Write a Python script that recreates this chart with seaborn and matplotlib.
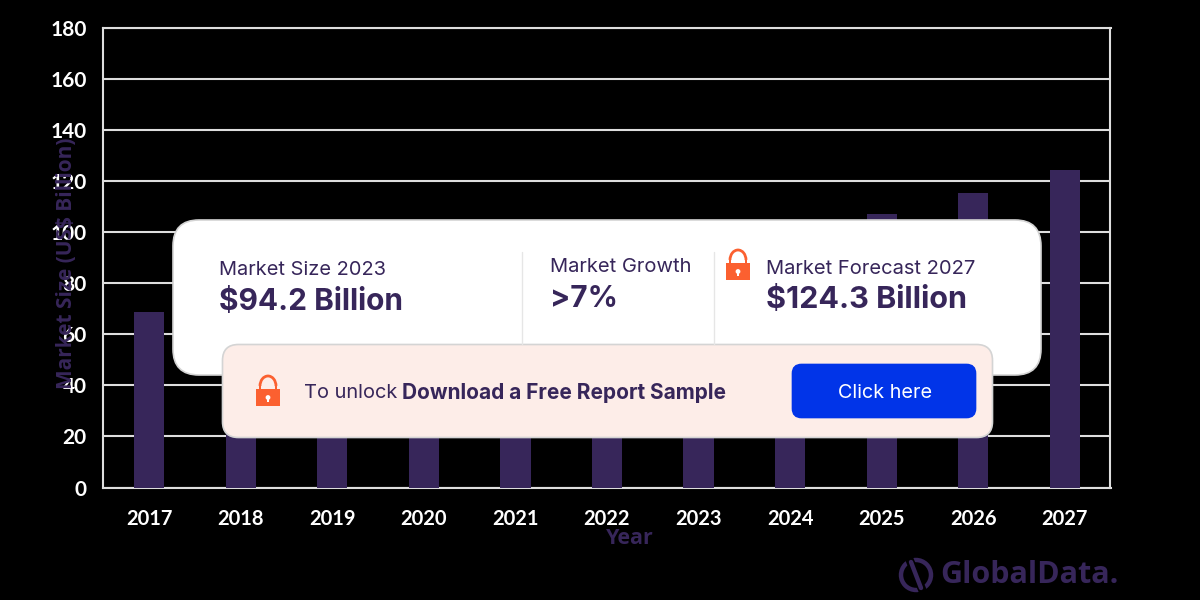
import pandas as pd
import matplotlib.pyplot as plt
import seaborn as sns
from matplotlib.patches import FancyBboxPatch, Rectangle, Arc, Circle

years = ['2017', '2018', '2019', '2020', '2021', '2022', '2023', '2024', '2025', '2026', '2027']
# values behind the card are estimates, 2023 and 2027 are printed on it
market_size = [68.7, 72.5, 76.0, 72.0, 80.0, 87.0, 94.2, 100.5, 107.3, 115.3, 124.3]
y_ticks = [0, 20, 40, 60, 80, 100, 120, 140, 160, 180]

PURPLE = '#37265a'
ORANGE = '#fb6030'
BLUE = '#0134e8'
PINK = '#fdede8'
LINE = '#dedede'


def draw_card(ax, x, y, w, h, radius, color, edge='#d4d4d4'):
    """Rounded panel, given in pixels"""
    ax.add_patch(FancyBboxPatch((x + radius, y + radius), w - 2 * radius, h - 2 * radius,
                                boxstyle=f'round,pad={radius},rounding_size={radius}',
                                facecolor=color, edgecolor=edge, linewidth=1.2))


def draw_lock(ax, cx, top):
    """Small padlock icon, top is the pixel row of the shackle"""
    ax.add_patch(Arc((cx, top + 10), 16, 20, theta1=180, theta2=360, color=ORANGE, linewidth=2))
    ax.add_patch(Rectangle((cx - 9, top + 10), 2, 6, color=ORANGE, linewidth=0))
    ax.add_patch(Rectangle((cx + 7, top + 10), 2, 6, color=ORANGE, linewidth=0))
    ax.add_patch(Rectangle((cx - 12, top + 13), 24, 17, color=ORANGE, linewidth=0))
    ax.add_patch(Circle((cx, top + 21.5), 2.4, color='white', linewidth=0))
    ax.add_patch(Rectangle((cx - 1, top + 22), 2, 4, color='white', linewidth=0))


df = pd.DataFrame({'year': years, 'market_size': market_size})

sns.set_theme(style='white')
plt.rcParams['font.family'] = ['Lato', 'DejaVu Sans']

fig = plt.figure(figsize=(12, 6), dpi=100, facecolor='black')
ax = fig.add_axes([103.5 / 1200, 1 - 487.5 / 600, 1007 / 1200, 459.5 / 600], facecolor='black')

sns.barplot(data=df, x='year', y='market_size', color=PURPLE, saturation=1, width=0.33,
            linewidth=0, ax=ax, zorder=3)

ax.set_ylim(0, 180)
ax.set_xlim(-0.5, 10.5)
ax.set_yticks(y_ticks)
ax.grid(axis='y', color=LINE, linewidth=1.5, zorder=1)
ax.set_axisbelow(True)
for spine in ax.spines.values():
    spine.set_visible(True)
    spine.set_color(LINE)
    spine.set_linewidth(1.5)
ax.tick_params(axis='x', length=0, pad=15.5, labelsize=14.5, labelcolor='white')
ax.tick_params(axis='y', length=0, pad=12, labelsize=15, labelcolor='white')
for label in ax.get_xticklabels() + ax.get_yticklabels():
    label.set_fontweight('bold')
    label.set_zorder(5)
ax.set_xlabel('')
ax.set_ylabel('')

# overlay in pixel coordinates for the axis titles, the cards and the logo
ov = fig.add_axes([0, 0, 1, 1], facecolor='none')
ov.set_xlim(0, 1200)
ov.set_ylim(600, 0)
ov.axis('off')

title_font = ['Open Sans', 'DejaVu Sans']
ov.text(66, 263, 'Market Size (US$ Billion)', rotation=90, ha='center', va='center',
        fontsize=15, fontweight='bold', color=PURPLE, family=title_font)
ov.text(629.5, 539, 'Year', ha='center', va='center', fontsize=15.5, fontweight='bold', color=PURPLE,
        family=title_font)

draw_card(ov, 173, 220, 868, 155, 26, 'white')
ov.plot([521.5, 521.5], [252, 344], color='#e6e6e6', linewidth=1)
ov.plot([714, 714], [252, 344], color='#e6e6e6', linewidth=1)

card_font = ['Inter', 'DejaVu Sans']
ov.text(219, 270, 'Market Size 2023', fontsize=14.4, color=PURPLE, va='center', family=card_font)
ov.text(219, 302, '$94.2 Billion', fontsize=21.5, fontweight='bold', color=PURPLE, va='center', family=card_font)
ov.text(550, 267, 'Market Growth', fontsize=14.5, color=PURPLE, va='center', family=card_font)
ov.text(550, 299, '>7%', fontsize=21.5, fontweight='bold', color=PURPLE, va='center', family=card_font)
ov.text(766, 269, 'Market Forecast 2027', fontsize=14.5, color=PURPLE, va='center', family=card_font)
ov.text(766, 300, '$124.3 Billion', fontsize=22, fontweight='bold', color=PURPLE, va='center', family=card_font)
draw_lock(ov, 738, 250)

draw_card(ov, 222.5, 344.5, 770, 93, 16, PINK)
draw_lock(ov, 268, 376)
ov.text(304, 393, 'To unlock ', fontsize=14.4, color=PURPLE, va='center', family=card_font)
ov.text(402, 393, 'Download a Free Report Sample', fontsize=15, fontweight='bold', color=PURPLE,
        va='center', family=card_font)
draw_card(ov, 792.5, 364.5, 183, 53, 9, BLUE, edge=BLUE)
ov.text(885, 393, 'Click here', fontsize=14.3, color='white', ha='center', va='center', family=card_font)

# logo
ov.add_patch(Circle((916, 575), 15, facecolor='none', edgecolor=PURPLE, linewidth=3.2))
ov.plot([908, 924], [556, 594], color='black', linewidth=6)
ov.plot([911, 921], [562, 588], color=PURPLE, linewidth=3.2)
ov.add_patch(Circle((908, 556), 2.6, color=PURPLE, linewidth=0))
ov.add_patch(Circle((924, 594), 2.6, color=PURPLE, linewidth=0))
ov.text(940, 575, 'GlobalData.', fontsize=22, fontweight='bold', color=PURPLE, va='center',
        family=['Open Sans', 'DejaVu Sans'])

fig.savefig('out.png', dpi=100, facecolor='black')
plt.close(fig)
